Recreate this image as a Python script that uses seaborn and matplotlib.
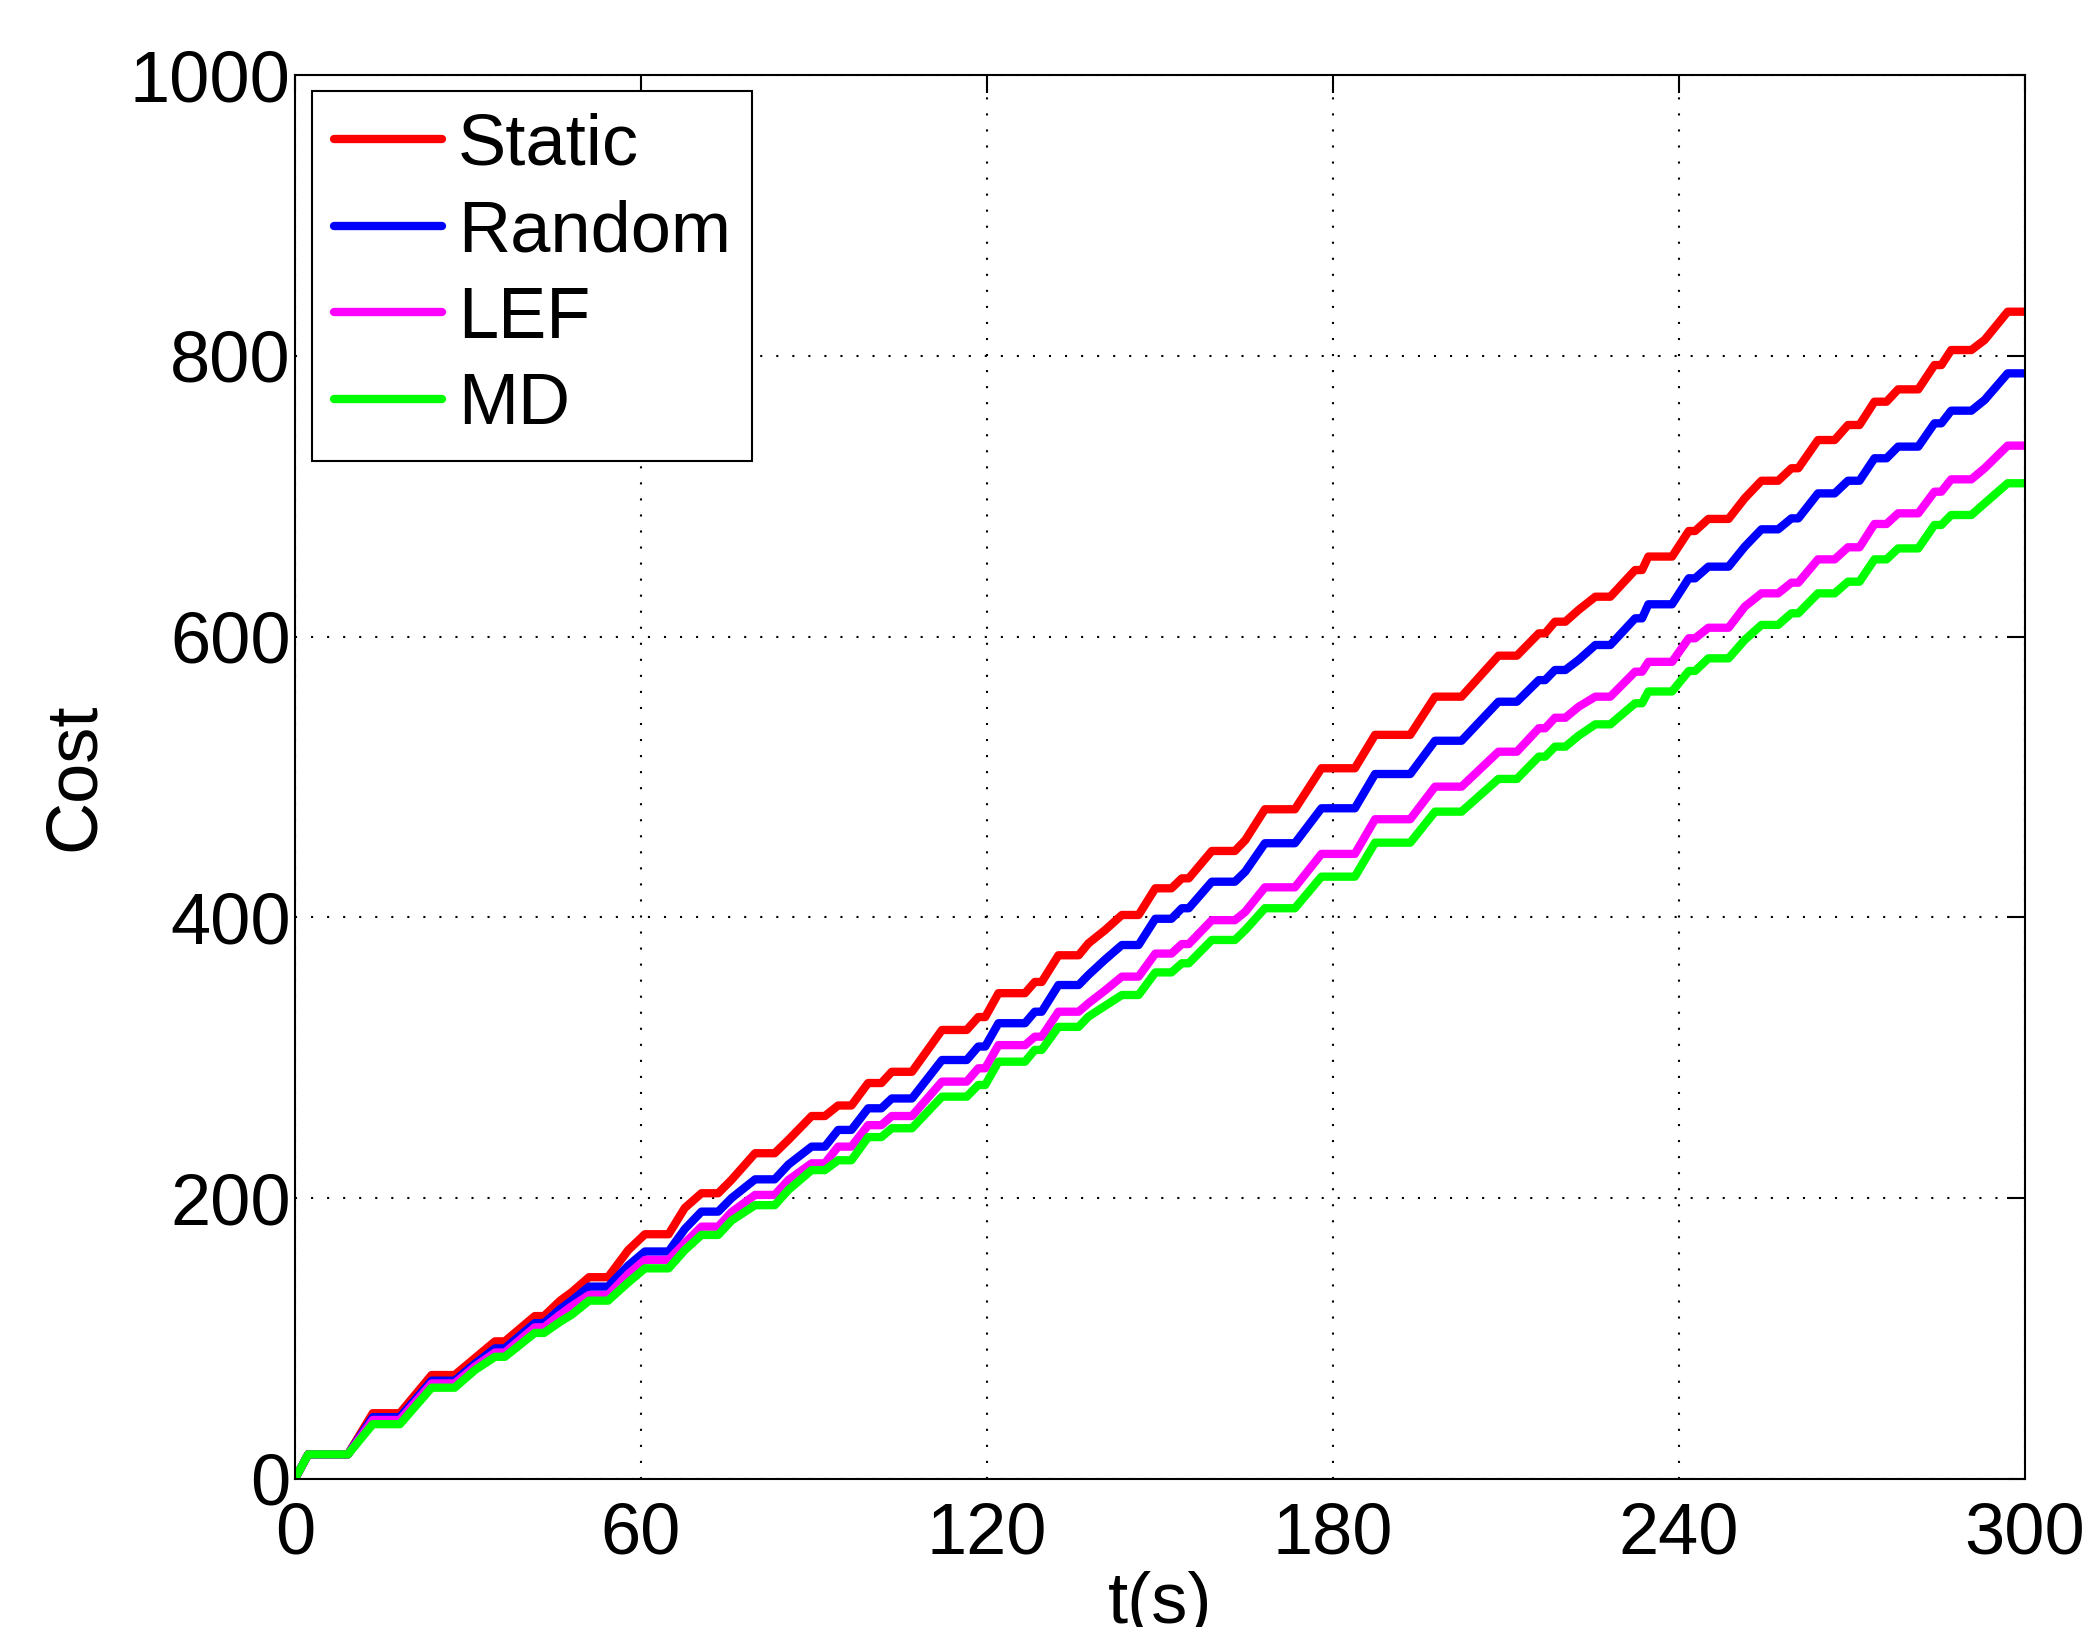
import numpy as np
import pandas as pd
import matplotlib
matplotlib.use("Agg")
import matplotlib.pyplot as plt
import seaborn as sns

# time breakpoints (s): plateau starts/ends of each step
t_s = [0, 2.3, 9.2, 13.5, 18.2, 23.7, 27.7, 31.2, 34.7, 36.4,
       41.6, 43.2, 46.0, 48.0, 51.0, 54.3, 57.8, 60.7, 64.8, 67.6,
       70.5, 73.4, 75.7, 79.8, 83.2, 85.6, 89.6, 91.9, 94.2, 96.5,
       99.4, 101.7, 103.5, 107.0, 112.2, 116.5, 118.5, 119.7, 122.0, 126.6,
       128.3, 129.5, 132.4, 135.9, 137.6, 140.5, 143.4, 146.3, 149.2, 152.0,
       153.8, 155.0, 159.0, 163.0, 164.8, 168.2, 173.4, 178.0, 183.8, 187.3,
       193.4, 197.7, 202.3, 208.7, 211.9, 215.7, 216.8, 218.5, 220.3, 222.6,
       225.5, 228.1, 232.4, 233.6, 234.7, 238.8, 241.7, 242.8, 245.1, 248.6,
       251.4, 254.3, 257.2, 259.5, 260.7, 264.1, 267.0, 269.3, 271.3, 273.9,
       276.0, 278.0, 281.5, 284.3, 285.5, 287.2, 290.7, 293.0, 297.0, 300.0]

static = [0, 17.5, 17.5, 46.8, 46.8, 74, 74, 86, 98, 98,
          116, 116, 127, 133, 143.7, 143.7, 163, 174.3, 174.3, 193,
          203.5, 203.5, 213, 232, 232, 241.6, 258.5, 258.5, 266, 266,
          282, 282, 290, 290, 319.8, 319.8, 329, 329, 346, 346,
          354, 354, 373, 373, 381.5, 391, 401.7, 401.7, 420.7, 420.7,
          427.8, 427.8, 447.3, 447.3, 455, 477, 477, 506.2, 506.2, 530,
          530, 557.2, 557.2, 586.4, 586.4, 602.3, 602.3, 610.6, 610.6, 619,
          628.4, 628.4, 647.4, 647.4, 657, 657, 675.2, 675.2, 683.8, 683.8,
          698.5, 711, 711, 719.9, 719.9, 740, 740, 750.7, 750.7, 767.3,
          767.3, 776.1, 776.1, 793.4, 793.4, 804.1, 804.1, 811.3, 831.4, 831.4]

random_ = [0, 17.5, 17.5, 44, 44, 70, 70, 82, 93, 93,
           111, 111, 121, 127, 137, 137, 152, 162, 162, 178,
           190.4, 190.4, 200, 213.4, 213.4, 224, 236.7, 236.7, 248.6, 248.6,
           264, 264, 271, 271, 298.4, 298.4, 308, 308, 324.6, 324.6,
           332.8, 332.8, 351.8, 351.8, 359, 370, 380.3, 380.3, 399, 399,
           406.5, 406.5, 425.4, 425.4, 432.6, 452.8, 452.8, 477.7, 477.7, 502.1,
           502.1, 525.8, 525.8, 553.6, 553.6, 569, 569, 576.2, 576.2, 583.4,
           594, 594, 613, 613, 623, 623, 641.5, 641.5, 649.8, 649.8,
           664, 676.4, 676.4, 684.2, 684.2, 702, 702, 711, 711, 727,
           727, 735.3, 735.3, 751.9, 751.9, 760.9, 760.9, 768.5, 787.5, 787.5]

lef = [0, 17.5, 17.5, 42, 42, 68, 68, 80, 90, 90,
       108, 108, 117, 123, 131, 131, 146, 156, 156, 168,
       179.7, 179.7, 190, 202.3, 202.3, 213, 224.8, 224.8, 236.7, 236.7,
       252, 252, 258.5, 258.5, 283, 283, 292.5, 292.5, 309, 309,
       315, 315, 332.8, 332.8, 338.8, 348, 357.8, 357.8, 374.2, 374.2,
       381, 381, 398, 398, 404, 421.4, 421.4, 445.2, 445.2, 469.9,
       469.9, 493.1, 493.1, 518, 518, 534.7, 534.7, 542.2, 542.2, 550,
       557.2, 557.2, 575, 575, 582, 582, 598.8, 598.8, 606.3, 606.3,
       621.3, 630.8, 630.8, 638.4, 638.4, 655, 655, 663.6, 663.6, 680.2,
       680.2, 687.8, 687.8, 703.2, 703.2, 712, 712, 719.9, 736, 736]

md = [0, 17.5, 17.5, 39, 39, 65, 65, 77.5, 87, 87,
      104, 104, 112, 117, 127, 127, 140, 150, 150, 163,
      173.8, 173.8, 184, 195, 195, 206, 220, 220, 227, 227,
      243.5, 243.5, 249.8, 249.8, 272.3, 272.3, 280.6, 280.6, 297.2, 297.2,
      305.6, 305.6, 322, 322, 329.3, 337, 344.7, 344.7, 360.8, 360.8,
      367.3, 367.3, 383.9, 383.9, 391, 406.5, 406.5, 429, 429, 453.2,
      453.2, 475.3, 475.3, 498.6, 498.6, 514.5, 514.5, 521.6, 521.6, 529.4,
      537.5, 537.5, 552.5, 552.5, 560.9, 560.9, 575.5, 575.5, 584.5, 584.5,
      597.6, 608.3, 608.3, 616.6, 616.6, 630.8, 630.8, 639.1, 639.1, 655,
      655, 662.8, 662.8, 679.5, 679.5, 686.6, 686.6, 694.9, 709.2, 709.2]

methods = ["Static", "Random", "LEF", "MD"]
colors = {"Static": "#FF0000", "Random": "#0000FF", "LEF": "#FF00FF", "MD": "#00FF00"}

df = pd.concat([
    pd.DataFrame({"t": t_s, "cost": vals, "method": name})
    for name, vals in zip(methods, [static, random_, lef, md])
], ignore_index=True)

sns.set_style("white")
plt.rcParams["font.family"] = ["Liberation Sans", "DejaVu Sans"]
plt.rcParams["text.color"] = "black"
plt.rcParams["axes.labelcolor"] = "black"
plt.rcParams["xtick.color"] = "black"
plt.rcParams["ytick.color"] = "black"

fs = 52

fig = plt.figure(figsize=(20.93, 16.27), dpi=100)
ax = fig.add_axes([0.1409, 0.0910, 0.8266, 0.8629])

sns.lineplot(data=df, x="t", y="cost", hue="method", hue_order=methods,
             palette=colors, linewidth=6, estimator=None, sort=False, ax=ax,
             solid_joinstyle="round")

ax.set_xlim(0, 300)
ax.set_ylim(0, 1000)
ax.set_xticks([0, 60, 120, 180, 240, 300])
ax.set_yticks([0, 200, 400, 600, 800, 1000])
ax.grid(True, color="black", linestyle=(0, (1, 6.7)), linewidth=1.5)
ax.tick_params(direction="in", length=13, width=1.5, labelsize=fs,
               top=True, right=True)
ax.tick_params(axis="x", pad=16)
ax.tick_params(axis="y", pad=3)
for sp in ax.spines.values():
    sp.set_color("black")
    sp.set_linewidth(1.5)

ax.set_xlabel("t(s)", fontsize=fs, labelpad=2)
ax.set_ylabel("Cost", fontsize=fs, labelpad=15)

handles, labels = ax.get_legend_handles_labels()
leg = ax.legend(handles, labels, loc="upper left",
                bbox_to_anchor=(0.0098, 0.9886), borderaxespad=0,
                fontsize=fs, handlelength=1.5, handletextpad=0.22,
                labelspacing=0.27, borderpad=0.3, fancybox=False,
                framealpha=1, edgecolor="black")
leg.get_frame().set_linewidth(1.5)

fig.savefig("out.png", dpi=100)
